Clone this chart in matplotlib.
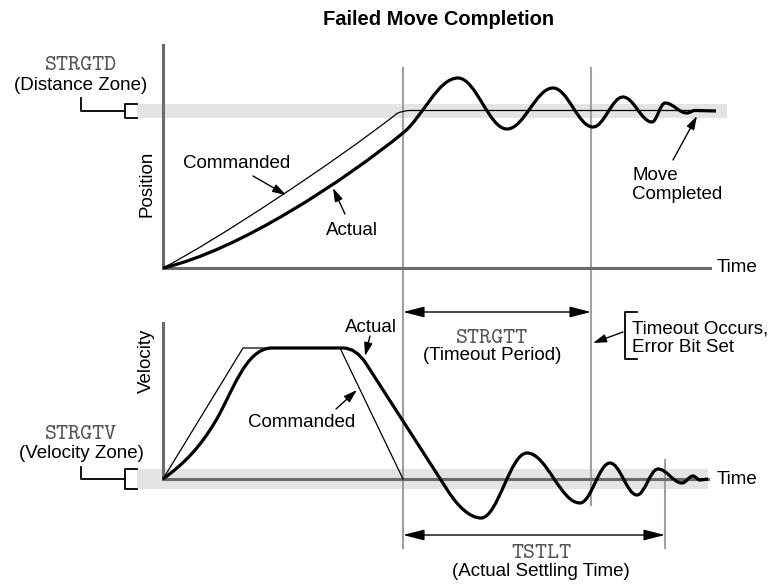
import matplotlib.pyplot as plt
from matplotlib.path import Path
from matplotlib.patches import PathPatch, Rectangle

plt.rcParams['font.family'] = ['Liberation Sans', 'DejaVu Sans']

# drawing units are pixels, y grows downward
W, H = 774, 584

# time marks
t_origin = 163
t_cmd_end = 403
t_timeout = 591
t_settled = 665

# position panel
pos_base = 268
pos_target = 110.5
pos_zone = (103.5, 118)

# commanded position: rise, rounded corner onto target, hold
pos_cmd_rise = [(163, 268), (217, 240), (335, 162), (397, 113.5)]
pos_cmd_corner = [(403, 110.5), (410, 110.5)]
pos_cmd_hold_end = 716

# actual position: lagging rise then decaying overshoot
pos_act_rise = [(163, 268), (240, 250), (345, 180), (403, 133),
                (423, 116.8), (438, 78), (458, 78)]
pos_act_ext_x = [458, 507, 553, 593, 623, 652, 665, 687, 695]
pos_act_ext_y = [78, 129, 88, 127, 97, 122, 103, 113, 110.5]
pos_act_hold = (716, 111)

# velocity panel
vel_base = 479
vel_zone = (469, 489)

vel_cmd_t = [163, 243, 340, 403]
vel_cmd_v = [479, 348, 348, 479]

vel_act_rise = [(163, 479), (185, 463), (200, 447), (215, 422),
                (232, 394), (245, 348), (272, 348)]
vel_act_decel = [(343, 348), (356, 348), (366, 363.5), (448, 491),
                 (458, 506.5), (470, 518), (481, 518)]
vel_act_ext_x = [481, 527, 580, 610, 637, 658, 682, 693, 700]
vel_act_ext_y = [518, 453, 503, 463, 495, 469, 483, 476, 480]
vel_act_hold = (708, 479)

AXIS = '#6b6b6b'
MARK = '#a0a0a0'
ZONE = '#e4e4e4'
MONO = '#555555'


def wave(verts, codes, xs, ys, k=0.37):
    # smooth half-cycles between successive extrema (flat tangents)
    for (x1, y1), (x2, y2) in zip(zip(xs[:-1], ys[:-1]), zip(xs[1:], ys[1:])):
        dx = x2 - x1
        verts += [(x1 + k * dx, y1), (x2 - k * dx, y2), (x2, y2)]
        codes += [Path.CURVE4] * 3


def curve(ax, verts, codes, lw):
    ax.add_patch(PathPatch(Path(verts, codes), fill=False, lw=lw,
                           edgecolor='black', capstyle='butt',
                           joinstyle='round', zorder=4))


def arrow(ax, tail, tip):
    ax.annotate('', xy=tip, xytext=tail,
                arrowprops=dict(arrowstyle='-|>,head_length=0.8,head_width=0.25',
                                lw=1.0, color='black', shrinkA=0, shrinkB=0,
                                mutation_scale=10), zorder=6)


def span(ax, x1, x2, y):
    ax.annotate('', xy=(x2, y), xytext=(x1, y),
                arrowprops=dict(arrowstyle='<|-|>,head_length=1.3,head_width=0.33',
                                lw=1.0, color='black', shrinkA=0, shrinkB=0,
                                mutation_scale=10), zorder=6)


def zone_bracket(ax, x_text, y_from, zone, x_br=125, x_end=137):
    top, bot = zone
    mid = (top + bot) / 2
    ax.plot([x_text, x_text, x_br], [y_from, mid, mid], color='black', lw=1.3)
    ax.plot([x_end, x_br, x_br, x_end], [top, top, bot, bot], color='black', lw=1.3)


fig = plt.figure(figsize=(W / 100, H / 100), dpi=100)
ax = fig.add_axes([0, 0, 1, 1])
ax.set_xlim(0, W)
ax.set_ylim(H, 0)
ax.axis('off')

# tolerance zones
ax.add_patch(Rectangle((137, pos_zone[0]), 727 - 137, pos_zone[1] - pos_zone[0],
                       color=ZONE, lw=0, zorder=0))
ax.add_patch(Rectangle((137, vel_zone[0]), 708 - 137, vel_zone[1] - vel_zone[0],
                       color=ZONE, lw=0, zorder=0))

# time marker lines
ax.plot([t_cmd_end, t_cmd_end], [68, 548], color=MARK, lw=1.5, zorder=1)
ax.plot([t_timeout, t_timeout], [68, 505], color=MARK, lw=1.5, zorder=1)
ax.plot([t_settled, t_settled], [460, 548], color=MARK, lw=1.5, zorder=1)

# axes
ax.plot([t_origin, t_origin, 710], [45, pos_base, pos_base], color=AXIS, lw=2.2,
        solid_joinstyle='miter', zorder=2)
ax.plot([t_origin, t_origin, 708], [323, vel_base, vel_base], color=AXIS, lw=2.2,
        solid_joinstyle='miter', zorder=2)

# commanded position
v = list(pos_cmd_rise) + list(pos_cmd_corner) + [(pos_cmd_hold_end, pos_target)]
c = [Path.MOVETO] + [Path.CURVE4] * 3 + [Path.CURVE3] * 2 + [Path.LINETO]
curve(ax, v, c, 0.9)

# actual position
v = list(pos_act_rise)
c = [Path.MOVETO] + [Path.CURVE4] * 6
wave(v, c, pos_act_ext_x, pos_act_ext_y)
v.append(pos_act_hold)
c.append(Path.LINETO)
curve(ax, v, c, 2.3)

# commanded velocity
ax.plot(vel_cmd_t, vel_cmd_v, color='black', lw=0.9, zorder=4)

# actual velocity
v = list(vel_act_rise) + list(vel_act_decel)
c = ([Path.MOVETO] + [Path.CURVE4] * 6 + [Path.LINETO] + [Path.CURVE3] * 2
     + [Path.LINETO] + [Path.CURVE4] * 3)
wave(v, c, vel_act_ext_x, vel_act_ext_y)
v.append(vel_act_hold)
c.append(Path.LINETO)
curve(ax, v, c, 2.3)

fs = 13.5
ax.text(439, 19.5, 'Failed Move Completion', fontsize=14.5, fontweight='bold',
        ha='center', va='center')

# zone labels
ax.text(81, 70, 'STRGTD', family='cmtt10', fontsize=16.5, color=MONO,
        ha='center', va='baseline')
ax.text(81, 90, '(Distance Zone)', fontsize=fs, ha='center', va='baseline')
zone_bracket(ax, 81, 98, pos_zone)

ax.text(81, 439, 'STRGTV', family='cmtt10', fontsize=16.5, color=MONO,
        ha='center', va='baseline')
ax.text(81, 458, '(Velocity Zone)', fontsize=fs, ha='center', va='baseline')
zone_bracket(ax, 81, 467, vel_zone)

# axis titles
ax.text(147, 184, 'Position', fontsize=fs, rotation=90, ha='center', va='center')
ax.text(146, 361, 'Velocity', fontsize=fs, rotation=90, ha='center', va='center')
ax.text(717, 268, 'Time', fontsize=fs, ha='left', va='center')
ax.text(717, 479, 'Time', fontsize=fs, ha='left', va='center')

# curve callouts, position
ax.text(237, 168, 'Commanded', fontsize=fs, ha='center', va='baseline')
arrow(ax, (253, 176), (286, 195))
ax.text(352, 235, 'Actual', fontsize=fs, ha='center', va='baseline')
arrow(ax, (345, 214), (333, 188))
ax.text(632, 180, 'Move', fontsize=fs, ha='left', va='baseline')
ax.text(632, 199, 'Completed', fontsize=fs, ha='left', va='baseline')
arrow(ax, (673, 160), (697, 116))

# curve callouts, velocity
ax.text(371, 332, 'Actual', fontsize=fs, ha='center', va='baseline')
arrow(ax, (370, 336), (365, 356))
ax.text(302, 427, 'Commanded', fontsize=fs, ha='center', va='baseline')
arrow(ax, (336, 409), (357, 390))

# timeout period
span(ax, t_cmd_end, t_timeout, 312)
ax.text(492, 343, 'STRGTT', family='cmtt10', fontsize=16.5, color=MONO,
        ha='center', va='baseline')
ax.text(492, 360, '(Timeout Period)', fontsize=fs, ha='center', va='baseline')

ax.plot([637, 625, 625, 637], [312, 312, 359, 359], color='black', lw=1.3)
ax.text(632, 333, 'Timeout Occurs,', fontsize=fs, ha='left', va='baseline')
ax.text(632, 352, 'Error Bit Set', fontsize=fs, ha='left', va='baseline')
arrow(ax, (623, 332), (593, 343))

# settling time
span(ax, t_cmd_end, t_settled, 535)
ax.text(541, 558, 'TSTLT', family='cmtt10', fontsize=16.5, color=MONO,
        ha='center', va='baseline')
ax.text(541, 576, '(Actual Settling Time)', fontsize=fs, ha='center', va='baseline')

fig.savefig('out.png', dpi=100)
